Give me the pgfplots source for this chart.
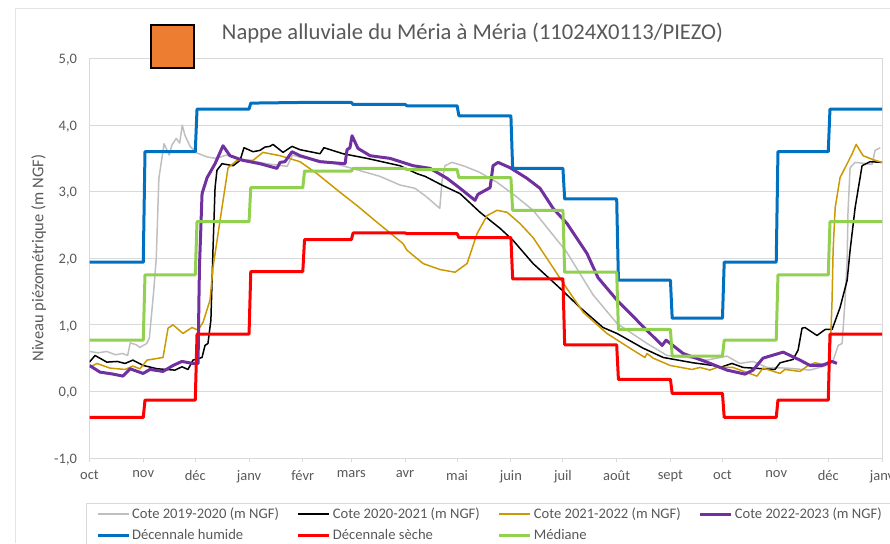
\documentclass[border=0pt]{standalone}
\usepackage{fontspec}
\setmainfont{Carlito}
\usepackage{pgfplots}
\pgfplotsset{compat=1.18}
\definecolor{txt}{HTML}{595959}
\definecolor{gridc}{HTML}{D9D9D9}
\definecolor{c1}{HTML}{BFBFBF}
\definecolor{c3}{HTML}{CC9900}
\definecolor{c4}{HTML}{7030A0}
\definecolor{c5}{HTML}{0070C0}
\definecolor{c6}{HTML}{FF0000}
\definecolor{c7}{HTML}{92D050}
\definecolor{sq}{HTML}{ED7D31}
\begin{document}
\begin{tikzpicture}[x=1pt,y=1pt]
\path[use as bounding box] (0,0) rectangle (890,543);
\draw[color=gridc!70,line width=1pt] (15.5,0)--(15.5,534)--(890,534);
\begin{axis}[
  at={(89.5pt,85pt)},anchor=south west,
  width=792.5pt,height=399.5pt,scale only axis,
  xmin=0,xmax=457,ymin=-1,ymax=5,
  axis line style={color=gridc,line width=1pt},
  xtick={0,31,61,92,123,151,182,212,243,273,304,335,365,396,426,457},
  xticklabels={oct,nov,déc,janv,févr,mars,avr,mai,juin,juil,août,sept,oct,nov,déc,janv},
  ytick={-1,0,1,2,3,4,5},
  yticklabels={{-1,0},{0,0},{1,0},{2,0},{3,0},{4,0},{5,0}},
  tick align=outside,
  xtick pos=bottom,ytick pos=left,
  major tick length=4pt,
  x tick style={color=gridc,line width=1pt},
  y tick style={draw=none},
  ymajorgrids,
  grid style={color=gridc,line width=1pt},
  tick label style={font=\fontsize{14.5}{16}\selectfont,text=txt},
  xticklabel style={yshift=-5pt},
  yticklabel style={xshift=-5pt,yshift=-1.5pt},
  ylabel={Niveau piézométrique (m NGF)},
  ylabel style={font=\fontsize{16.5}{18}\selectfont,text=txt,at={(axis description cs:0,0.5)},anchor=south,yshift=40pt},
  legend columns=4,
  legend cell align=left,
  legend style={at={(axis description cs:-0.005,-0.1115)},anchor=north west,draw=gridc,line width=1pt,
    font=\fontsize{14.6}{16}\selectfont,text=txt,inner xsep=10pt,inner ysep=3pt,
    /tikz/every even column/.append style={column sep=16pt},
    /tikz/row sep=5pt},
  legend image code/.code={\draw[#1] (0pt,0pt)--(31pt,0pt);},
  every axis plot/.append style={line join=round,no markers},
]
\addplot[c1,line width=1.5pt] coordinates {(0,.6)(5,.58)(10,.6)(15,.55)(19,.57)(22,.54)(23.5,.73)(27,.7)(29,.66)(33,.72)(34.5,.8)(37,1.5)(38.5,2)(40,3.2)(43,3.72)(46,3.55)(47.5,3.7)(50,3.8)(52,3.73)(53.5,4)(55,3.85)(58,3.68)(62,3.58)(68,3.52)(73,3.5)(79,3.55)(85,3.5)(92,3.47)(102,3.42)(114,3.38)(117,3.55)(121,3.52)(138.7,3.44)(150,3.36)(167.5,3.23)(179,3.1)(187.7,3.05)(193.5,2.94)(202,2.75)(203.3,3.17)(205,3.39)(209,3.44)(216.5,3.38)(225,3.29)(235,3.14)(245.4,2.94)(255.8,2.72)(275,2.1)(290.4,1.45)(304.2,1.02)(321.5,.72)(333,.54)(344.6,.51)(356,.47)(367.6,.53)(375,.42)(382.6,.45)(390.7,.36)(402,.35)(415.5,.32)(425,.39)(428.8,.46)(431.7,.69)(434,.72)(435.7,1.37)(436.9,1.97)(437.4,2.7)(438.6,3.36)(441.5,3.44)(451.3,3.41)(453,3.62)(456,3.66)};
\addlegendentry{Cote 2019-2020 (m NGF)}
\addplot[black,line width=1.5pt] coordinates {(0,.44)(3.2,.54)(10,.44)(16,.45)(20.5,.42)(25,.47)(31,.39)(39,.34)(49.3,.32)(53.3,.37)(56.8,.33)(59.7,.47)(64.9,.51)(66.6,.69)(68.3,.72)(70,1.07)(71.2,2.12)(72.4,3.06)(73.5,3.32)(76.4,3.42)(82.8,3.39)(86.8,3.47)(89.1,3.66)(94.3,3.6)(98.3,3.62)(101.2,3.67)(104,3.68)(105.8,3.71)(111.6,3.59)(116.8,3.68)(121.4,3.63)(132.9,3.57)(135.2,3.66)(146.2,3.57)(160,3.5)(179,3.39)(188.9,3.27)(193.5,3.23)(203.9,3.09)(213.7,2.97)(225.2,2.69)(236.7,2.45)(244.2,2.27)(255.8,1.92)(271.3,1.55)(282.9,1.26)(296.1,.96)(304.2,.87)(319.2,.65)(330.8,.51)(348,.43)(359.6,.39)(363.6,.36)(370.5,.42)(376.9,.36)(388.4,.34)(395.3,.33)(398.2,.43)(405.7,.48)(408.6,.62)(410.9,.95)(412.6,.96)(419.5,.84)(424.2,.93)(428.2,.93)(432.8,1.26)(436.9,1.67)(438.6,2.12)(441.5,2.76)(445.5,3.39)(450.1,3.45)(457,3.44)};
\addlegendentry{Cote 2020-2021 (m NGF)}
\addplot[c3,line width=1.5pt] coordinates {(0,.36)(4.3,.42)(11.8,.35)(20.5,.33)(25,.38)(29.1,.34)(33.2,.47)(42.4,.51)(45.3,.95)(48.2,1)(53.9,.87)(59.1,.96)(62.6,.92)(65.5,1.04)(69.5,1.37)(71.2,1.86)(76.4,2.76)(79.9,3.36)(85.1,3.47)(94.3,3.47)(100,3.59)(109.9,3.54)(121.4,3.45)(131.2,3.27)(144.5,2.99)(154.3,2.79)(165.8,2.54)(180.8,2.22)(183.1,2.12)(192.4,1.92)(202.2,1.83)(210.8,1.79)(217.7,1.92)(223.5,2.37)(229.2,2.64)(235,2.72)(240.8,2.69)(248.3,2.52)(255.8,2.31)(267.3,1.86)(271.3,1.7)(284.6,1.19)(298.4,.87)(313.4,.62)(320.3,.51)(321.5,.57)(325,.5)(334.8,.39)(347.4,.33)(352,.36)(357.8,.32)(361.8,.36)(371,.36)(384.9,.23)(388.4,.35)(398.2,.27)(401,.33)(409.7,.3)(414.4,.39)(418.4,.43)(424.2,.4)(427,.47)(428.2,1.37)(428.8,2.12)(430,2.76)(432.8,3.21)(436.9,3.42)(439.8,3.57)(442.1,3.71)(446.1,3.54)(451.9,3.48)(457,3.44)};
\addlegendentry{Cote 2021-2022 (m NGF)}
\addplot[c4,line width=3pt] coordinates {(0,.39)(6,.29)(13.6,.26)(19.3,.23)(23.4,.34)(30.9,.27)(34.9,.33)(42.4,.3)(48.2,.39)(53.3,.45)(59.7,.42)(62.6,.42)(63.1,1.37)(63.4,1.86)(64.9,2.97)(67.8,3.21)(72.4,3.42)(77,3.69)(81,3.54)(88.5,3.47)(98.3,3.42)(108.1,3.35)(109.9,3.44)(112.7,3.45)(116.8,3.6)(121.4,3.54)(132.9,3.45)(147.4,3.42)(148.5,3.63)(150.2,3.66)(151.4,3.84)(154.8,3.65)(161.8,3.54)(173.3,3.5)(186.6,3.39)(196.4,3.35)(206.2,3.2)(213.7,3.05)(222.3,2.87)(224,2.96)(231,3.06)(232.7,3.39)(235.6,3.44)(242.5,3.36)(252.3,3.2)(259.8,3.05)(267.3,2.75)(275.4,2.52)(286.9,2.07)(293.2,1.71)(304.2,1.37)(317.5,1.02)(330.2,.69)(332.5,.77)(342.3,.57)(356,.44)(367.6,.32)(378,.26)(382.6,.32)(388.4,.5)(400,.59)(409.7,.47)(415.5,.39)(422.4,.39)(428.2,.45)(431,.42)};
\addlegendentry{Cote 2022-2023 (m NGF)}
\addplot[c5,line width=3pt] coordinates {(0,1.94)(31,1.94)(32,3.6)(61,3.6)(62,4.24)(92,4.24)(93,4.33)(123,4.34)(151,4.34)(152,4.31)(182,4.31)(183,4.29)(212,4.29)(213,4.14)(243,4.14)(244,3.35)(273,3.35)(274,2.89)(304,2.89)(305,1.67)(335,1.67)(336,1.1)(365,1.1)(366,1.94)(396,1.94)(397,3.6)(426,3.6)(427,4.24)(457,4.24)};
\addlegendentry{Décennale humide}
\addplot[c6,line width=3pt] coordinates {(0,-.39)(31,-.39)(32,-.13)(61,-.13)(62,.86)(92,.86)(93,1.8)(123,1.8)(124,2.28)(151,2.28)(152,2.38)(182,2.38)(183,2.37)(212,2.37)(213,2.31)(243,2.31)(244,1.69)(273,1.69)(274,.7)(304,.7)(305,.18)(335,.18)(336,-.03)(365,-.03)(366,-.39)(396,-.39)(397,-.13)(426,-.13)(427,.86)(457,.86)};
\addlegendentry{Décennale sèche}
\addplot[c7,line width=3pt] coordinates {(0,.77)(31,.77)(32,1.75)(61,1.75)(62,2.55)(92,2.55)(93,3.06)(123,3.06)(124,3.31)(151,3.31)(152,3.35)(182,3.35)(183,3.33)(212,3.33)(213,3.21)(243,3.21)(244,2.72)(273,2.72)(274,1.79)(304,1.79)(305,.93)(335,.93)(336,.53)(365,.53)(366,.77)(396,.77)(397,1.75)(426,1.75)(427,2.55)(457,2.55)};
\addlegendentry{Médiane}
\end{axis}
\node[text=txt,font=\fontsize{22.6}{26}\selectfont,anchor=center] at (472.5,509.5) {Nappe alluviale du Méria à Méria (11024X0113/PIEZO)};
\filldraw[fill=sq,draw=black,line width=2pt] (151,475) rectangle (193.5,518);
\end{tikzpicture}
\end{document}
